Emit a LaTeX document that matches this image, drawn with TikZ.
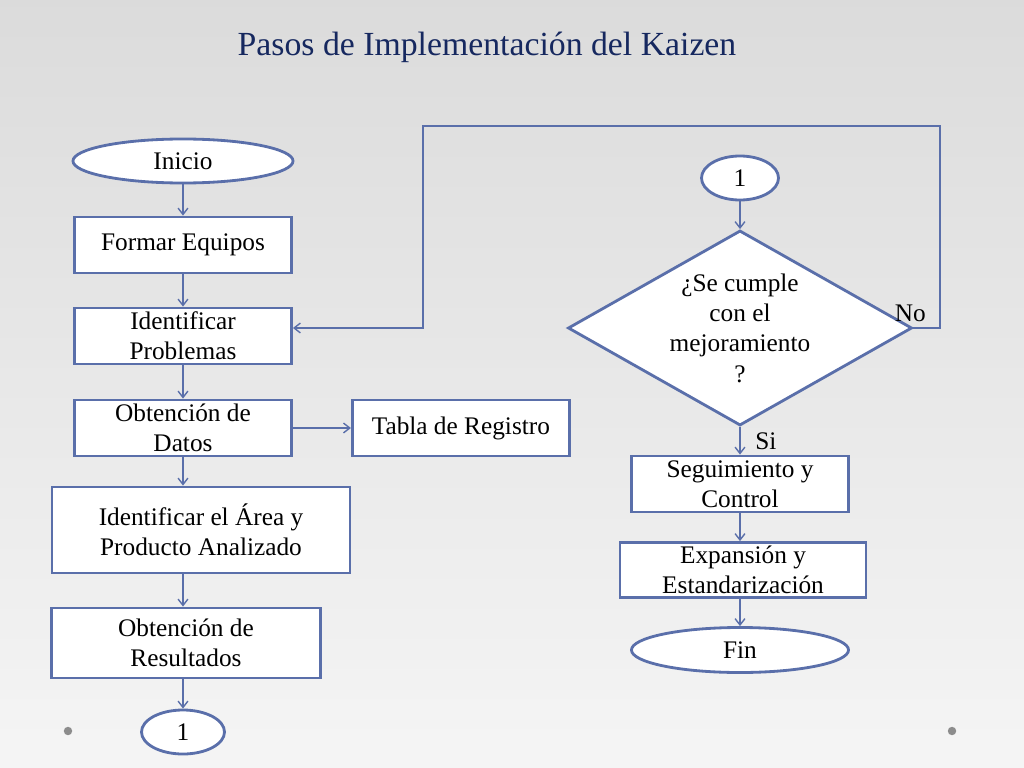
\documentclass[tikz,border=0pt]{standalone}
\usepackage{fontspec}
\setmainfont{Liberation Serif}
\usepackage{tikz}
\usetikzlibrary{arrows.meta, positioning, shapes.geometric}

\definecolor{flowline}{RGB}{90,111,170}
\definecolor{titleblue}{RGB}{22,40,95}

\begin{document}
\begin{tikzpicture}[
        x=0.025cm, y=-0.025cm,
        font=\fontsize{18}{21.6}\selectfont,
        box/.style={rectangle, draw=flowline, line width=2pt, fill=white, align=center, inner sep=1pt, minimum width=5.425cm, minimum height=1.4cm},
        terminal/.style={ellipse, draw=flowline, line width=2pt, fill=white, inner sep=0pt, minimum width=5.5cm, minimum height=1.1cm},
        decision/.style={diamond, aspect=1.76, draw=flowline, line width=2pt, fill=white, align=center, inner sep=0pt, minimum width=8.6cm, minimum height=4.875cm},
        arrow/.style={-{Straight Barb[length=4.5pt,width=7pt]}, draw=flowline, line width=1pt}
    ]

    % fondo
    \shade[top color=black!14, middle color=black!13, bottom color=black!4] (0,0) rectangle (1024,768);
    \useasboundingbox (0,0) rectangle (1024,768);
    \fill[black!45] (68,731) circle (3pt) (952,731) circle (3pt);

    % titulo
    \node[text=titleblue, font=\fontsize{24}{28}\selectfont] (titulo) at (487,47) {Pasos de Implementación del Kaizen};

    % columna izquierda
    \node[terminal] (inicio) at (183,161) {Inicio};
    \node[box] (equipos) at (183,245) {Formar Equipos};
    \node[box] (problemas) at (183,336) {Identificar\\Problemas};
    \node[box] (datos) at (183,428) {Obtención de\\Datos};
    \node[box, right=1.45cm of datos] (registro) {Tabla de Registro};
    \node[box, minimum width=7.45cm, minimum height=2.15cm] (area) at (201,530) {Identificar el Área y\\Producto Analizado};
    \node[box, minimum width=6.725cm, minimum height=1.75cm] (resultados) at (186,643) {Obtención de\\Resultados};
    \node[terminal, minimum width=2.075cm] (uno_a) at (183,732) {1};

    % columna derecha
    \node[terminal, minimum width=1.925cm] (uno_b) at (740,178) {1};
    \node[decision] (cumple) at (740,328) {¿Se cumple\\con el\\mejoramiento\\?};
    \node[box] (seguimiento) at (740,484) {Seguimiento y\\Control};
    \node[box, minimum width=6.15cm, minimum height=1.375cm] (expansion) at (743,570) {Expansión y\\Estandarización};
    \node[terminal, minimum width=5.425cm, minimum height=1.125cm] (fin) at (740,650) {Fin};

    % conexiones
    \draw[arrow] (inicio) -- (equipos);
    \draw[arrow] (equipos) -- (problemas);
    \draw[arrow] (problemas) -- (datos);
    \draw[arrow] (datos) -- (registro);
    \draw[arrow] (datos.south) -- (datos.south |- area.north);
    \draw[arrow] (area.south -| datos.south) -- (resultados.north -| datos.south);
    \draw[arrow] (resultados.south -| uno_a.north) -- (uno_a.north);

    \draw[arrow] (uno_b) -- (cumple);
    \draw[arrow] (cumple.south) -- (seguimiento.north) node[midway, right=0.25cm] {Si};
    \draw[arrow] (seguimiento.south) -- (seguimiento.south |- expansion.north);
    \draw[arrow] (expansion.south -| fin.north) -- (fin.north);

    % regreso
    \coordinate (vuelta_d) at (940,126);
    \coordinate (vuelta_i) at (423,126);
    \draw[arrow] (cumple.east) -| (vuelta_d) -- (vuelta_i) |- ([yshift=0.2cm]problemas.east);
    \node[anchor=base] (no) at ([xshift=-0.08cm, yshift=0.175cm]cumple.east) {No};

\end{tikzpicture}
\end{document}
